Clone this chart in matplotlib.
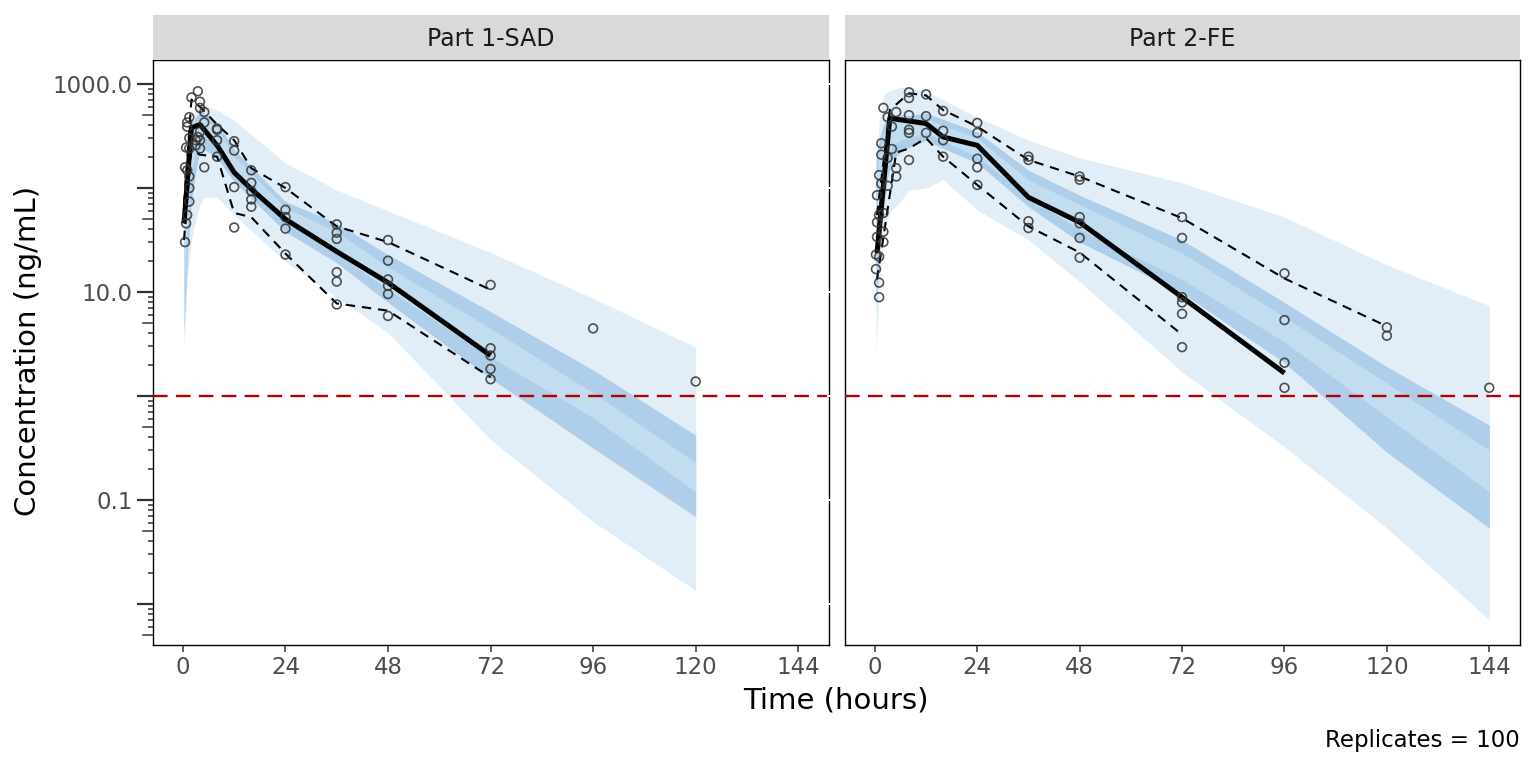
import matplotlib
matplotlib.use("Agg")
import matplotlib.pyplot as plt
import matplotlib.transforms as mtransforms
from matplotlib.ticker import FixedLocator, NullFormatter, FixedFormatter

# ---- data ----
panels = ["Part 1-SAD", "Part 2-FE"]
lloq = 1.0
replicates = 100

# observed concentrations, Part 1-SAD
sad_time = [0.5, 0.5, 0.75, 0.75, 1, 1, 1, 1,
            1.5, 1.5, 1.5, 1.5, 1.5, 1.5, 2, 3, 3, 3.5, 3.5,
            4, 4, 4, 4, 4, 5, 5, 5, 8, 8, 8, 8,
            12, 12, 12, 12, 16, 16, 16, 16, 16,
            24, 24, 24, 24, 24, 36, 36, 36, 36, 36, 36,
            48, 48, 48, 48, 48, 48, 72, 72, 72, 72, 72, 96, 120]
sad_conc = [30.2, 158, 45.7, 245, 55.0, 148, 389, 427,
            74.1, 100, 129, 240, 302, 479, 741, 288, 257, 851, 309,
            676, 589, 347, 288, 240, 537, 427, 158, 372, 363, 288, 200,
            282, 229, 102, 41.7, 148, 112, 93.3, 77.6, 66.1,
            102, 61.7, 52.5, 40.7, 22.9, 44.7, 37.2, 32.4, 15.5, 12.6, 7.59,
            31.6, 20.0, 13.2, 11.5, 9.55, 5.89, 11.7, 2.88, 2.45, 1.82, 1.45, 4.47, 1.38]

# observed concentrations, Part 2-FE
fe_time = [0.25, 0.25, 0.5, 0.5, 0.5, 1, 1, 1, 1, 1,
           1.5, 1.5, 1.5, 2, 2, 2, 2, 3, 3, 3, 4, 4, 5, 5, 5,
           8, 8, 8, 8, 8, 8, 12, 12, 12, 16, 16, 16, 16,
           24, 24, 24, 24, 24, 36, 36, 36, 36,
           48, 48, 48, 48, 48, 48, 72, 72, 72, 72, 72, 72,
           96, 96, 96, 96, 120, 120, 144]
fe_conc = [22.9, 16.6, 46.8, 33.9, 85.1, 8.91, 12.3, 21.9, 55.0, 133,
           110, 209, 269, 30.2, 38.0, 57.5, 589, 195, 105, 479, 389, 237, 129, 155, 537,
           832, 733, 501, 363, 339, 186, 794, 490, 339, 550, 355, 288, 200,
           422, 339, 191, 158, 107, 200, 186, 47.9, 41.2,
           129, 120, 52.5, 45.7, 33.1, 21.4, 52.5, 33.1, 8.91, 7.94, 6.17, 2.95,
           15.1, 5.37, 2.09, 1.20, 4.57, 3.80, 1.20]

# observed percentiles, Part 1-SAD
sad_obs_t = [0.25, 2, 4, 8, 12, 16, 24, 36, 48, 72]
sad_obs_q05 = [31.6, 234, 209, 200, 57.5, 52.5, 23.4, 7.76, 6.61, 1.51]
sad_obs_q50 = [45.7, 380, 407, 257, 141, 97.7, 50.1, 24.5, 12.3, 2.45]
sad_obs_q95 = [69.2, 708, 603, 407, 288, 155, 100, 42.7, 30.2, 10.5]

# observed percentiles, Part 2-FE
fe_q05_t = [0.5, 5, 8, 12, 16, 24, 36, 48, 72]
fe_obs_q05 = [13.2, 219, 240, 302, 200, 107, 42.7, 24.0, 3.89]
fe_q50_t = [0.5, 3.5, 12, 16, 24, 36, 48, 72, 96]
fe_obs_q50 = [23.7, 468, 417, 309, 257, 81.3, 46.8, 8.91, 1.66]
fe_q95_t = [0.5, 3.5, 8, 12, 16, 24, 36, 48, 72, 96, 120]
fe_obs_q95 = [55.0, 562, 813, 776, 562, 389, 186, 129, 51.3, 13.5, 4.68]

# simulated prediction bands, Part 1-SAD
sad_sim_t = [0.25, 1, 2, 3, 4, 5, 8, 12, 24, 36, 48, 72, 96, 120]
sad_outer_lo = [2.95, 12.3, 31.6, 49.0, 69.2, 81.3, 81.3, 55.0, 19.5, 8.9, 4.07, 0.38, 0.062, 0.0135]
sad_outer_hi = [55.0, 186, 407, 562, 631, 631, 562, 447, 174, 95.5, 60.3, 24.0, 8.7, 2.95]
sad_dark_lo = [3.89, 20.4, 75.9, 141, 234, 234, 195, 115, 38.0, 19.1, 7.94, 1.48, 0.316, 0.069]
sad_dark_hi = [39.8, 166, 398, 479, 537, 525, 427, 234, 74.1, 45.7, 22.9, 6.46, 1.78, 0.42]
sad_mid_lo = [8.3, 43.7, 148, 224, 324, 316, 257, 141, 46.8, 23.4, 10.5, 2.37, 0.62, 0.12]
sad_mid_hi = [25.1, 120, 316, 398, 468, 457, 380, 200, 64.6, 38.0, 17.4, 4.47, 1.07, 0.23]

# simulated prediction bands, Part 2-FE
fe_sim_t = [0.25, 1, 2, 3, 4, 6, 8, 12, 16, 24, 36, 48, 72, 96, 120, 144]
fe_outer_lo = [2.57, 10.5, 31.6, 51.3, 61.7, 74.1, 95.5, 100, 120, 61.7, 31.6, 12.6, 1.70, 0.324, 0.0537, 0.00708]
fe_outer_hi = [126, 447, 776, 851, 871, 933, 933, 832, 708, 479, 288, 195, 112, 52.5, 18.2, 7.41]
fe_dark_lo = [6.76, 20.4, 61.7, 126, 186, 219, 245, 288, 240, 174, 66.1, 30.2, 9.77, 2.09, 0.288, 0.0537]
fe_dark_hi = [186, 288, 407, 457, 479, 501, 501, 525, 457, 347, 148, 85.1, 31.6, 7.94, 1.91, 0.525]
fe_mid_lo = [20.4, 55.0, 120, 191, 257, 288, 309, 339, 282, 200, 81.3, 39.8, 13.2, 3.31, 0.63, 0.12]
fe_mid_hi = [120, 209, 324, 380, 417, 437, 447, 468, 398, 302, 120, 69.2, 23.7, 5.75, 1.33, 0.302]

x_ticks = [0, 24, 48, 72, 96, 120, 144]
y_decades = [0.01, 0.1, 1, 10, 100, 1000]
y_labels = ["", "0.1", "", "10.0", "", "1000.0"]
y_fives = [0.005, 0.05, 0.5, 5, 50, 500]
y_short = [m * d for d in [0.001, 0.01, 0.1, 1, 10, 100] for m in (2, 3, 4, 6, 7, 8, 9)]

OUTER = "#e1edf7"
DARK = "#aecee9"
MID = "#c3ddf0"
POINT = "#333333"
LLOQ_COL = "#b00000"
PX = 72 / 100.0  # points per pixel


def draw_panel(ax, t_sim, o_lo, o_hi, d_lo, d_hi, m_lo, m_hi,
               q05, q50, q95, pts_t, pts_c):
    ax.fill_between(t_sim, o_lo, o_hi, color=OUTER, lw=0, zorder=1)
    ax.fill_between(t_sim, d_lo, d_hi, color=DARK, lw=0, zorder=2)
    ax.fill_between(t_sim, m_lo, m_hi, color=MID, lw=0, zorder=3)
    for tt, vv in (q05, q95):
        ax.plot(tt, vv, color="black", lw=1.5, ls=(0, (4.5, 3.3)), zorder=5)
    ax.plot(q50[0], q50[1], color="black", lw=3.6, solid_capstyle="butt",
            solid_joinstyle="round", zorder=6)
    ax.axhline(lloq, color=LLOQ_COL, lw=1.7, ls=(0, (6.2, 3.5)), zorder=4)
    ax.scatter(pts_t, pts_c, s=40, facecolors="none", edgecolors=POINT,
               linewidths=1.2, alpha=0.85, zorder=7)

    ax.set_yscale("log")
    ax.set_ylim(0.00404, 1700)
    ax.set_xlim(-7.0, 151.2)
    ax.xaxis.set_major_locator(FixedLocator(x_ticks))
    ax.set_xticklabels([str(v) for v in x_ticks])
    ax.yaxis.set_major_locator(FixedLocator(y_decades))
    ax.yaxis.set_minor_locator(FixedLocator(y_short))
    ax.yaxis.set_minor_formatter(NullFormatter())
    for s in ax.spines.values():
        s.set_linewidth(1.0)
        s.set_color("black")
    ax.tick_params(axis="x", length=7 * PX, width=1.1, color="#333333",
                   labelsize=16.5, labelcolor="#4d4d4d", pad=3)


fig = plt.figure(figsize=(15.36, 7.68), dpi=100)
W, H = 1536.0, 768.0
axL = fig.add_axes([153 / W, 1 - 645 / H, 676 / W, 585 / H])
axR = fig.add_axes([845 / W, 1 - 645 / H, 675 / W, 585 / H])

draw_panel(axL, sad_sim_t, sad_outer_lo, sad_outer_hi, sad_dark_lo, sad_dark_hi,
           sad_mid_lo, sad_mid_hi,
           (sad_obs_t, sad_obs_q05), (sad_obs_t, sad_obs_q50), (sad_obs_t, sad_obs_q95),
           sad_time, sad_conc)
draw_panel(axR, fe_sim_t, fe_outer_lo, fe_outer_hi, fe_dark_lo, fe_dark_hi,
           fe_mid_lo, fe_mid_hi,
           (fe_q05_t, fe_obs_q05), (fe_q50_t, fe_obs_q50), (fe_q95_t, fe_obs_q95),
           fe_time, fe_conc)

axL.yaxis.set_major_formatter(FixedFormatter(y_labels))
axL.tick_params(axis="y", which="major", length=16 * PX, width=1.6, color="#333333",
                labelsize=16.5, labelcolor="#4d4d4d", pad=3)
axL.tick_params(axis="y", which="minor", length=5 * PX, width=1.1, color="#333333")
# mid-length log ticks at the 5s
trans = mtransforms.blended_transform_factory(axL.transAxes, axL.transData)
for v in y_fives:
    if v > 0.00404:
        axL.plot([-10 / 676, 0], [v, v], transform=trans, color="#333333",
                 lw=1.1, clip_on=False, zorder=8)

# right panel: no y labels, white major ticks (as in the reference)
axR.yaxis.set_major_formatter(NullFormatter())
axR.tick_params(axis="y", which="major", length=13, width=1.5, color="white")
axR.tick_params(axis="y", which="minor", length=0)

for ax, name in zip((axL, axR), panels):
    pos = ax.get_position()
    strip = fig.add_axes([pos.x0, 1 - 60 / H, pos.width, 45 / H])
    strip.set_facecolor("#d9d9d9")
    strip.set_xticks([])
    strip.set_yticks([])
    for s in strip.spines.values():
        s.set_visible(False)
    strip.text(0.5, 0.47, name, ha="center", va="center", fontsize=17, color="#1a1a1a")

fig.text(836 / W, 1 - 700 / H, "Time (hours)", ha="center", va="center", fontsize=21)
fig.text(28 / W, 1 - 351 / H, "Concentration (ng/mL)", ha="center", va="center",
         rotation=90, fontsize=21)
fig.text(1520 / W, 1 - 741 / H, f"Replicates = {replicates}", ha="right", va="center",
         fontsize=16.5)

fig.savefig("out.png", dpi=100)
